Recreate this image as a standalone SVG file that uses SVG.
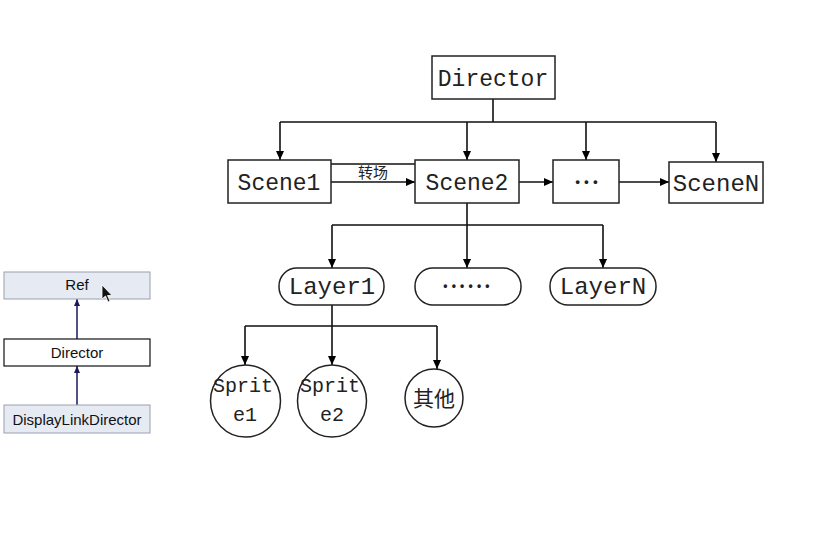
<svg xmlns="http://www.w3.org/2000/svg" width="826" height="536" viewBox="0 0 826 536">
<defs>
<marker id="ah" markerWidth="10" markerHeight="10" refX="9" refY="5" orient="auto" markerUnits="userSpaceOnUse">
<path d="M0,1 L9,5 L0,9 Z" fill="#000"/>
</marker>
<marker id="uh" markerWidth="8" markerHeight="8" refX="7" refY="4" orient="auto" markerUnits="userSpaceOnUse">
<path d="M0,1 L7,4 L0,7 Z" fill="#1a1a5a"/>
</marker>
<style>
.box{fill:#fff;stroke:#222;stroke-width:1.5}
.t{font-family:"Liberation Mono","Noto Sans CJK SC",monospace;fill:#222;text-anchor:middle}
.cj{font-family:"Noto Sans CJK SC",sans-serif;fill:#222;text-anchor:middle}
.c{stroke:#111;stroke-width:1.6;fill:none}
.ca{stroke:#111;stroke-width:1.6;fill:none;marker-end:url(#ah)}
.u{stroke:#1a1a5a;stroke-width:1.5;fill:none;marker-end:url(#uh)}
.ub{stroke:#9aa0ae;stroke-width:1;fill:#e6eaf3}
.us{font-family:"Liberation Sans",Arial,sans-serif;font-size:15px;fill:#111;text-anchor:middle}
</style>
</defs>
<rect width="826" height="536" fill="#fff"/>
<g id="connectors">
<path class="c" d="M493,99 V122 M280,122 H716"/>
<path class="ca" d="M280,122 V160"/>
<path class="ca" d="M467,122 V160"/>
<path class="ca" d="M586,122 V160"/>
<path class="ca" d="M716,122 V162"/>
<path class="c" d="M331,164 H415"/>
<path class="ca" d="M331,182 H415"/>
<path class="ca" d="M519,182 H553"/>
<path class="ca" d="M619,182 H669"/>
<path class="c" d="M467,203 V225 M332,225 H603"/>
<path class="ca" d="M332,225 V268"/>
<path class="ca" d="M467,225 V268"/>
<path class="ca" d="M603,225 V268"/>
<path class="c" d="M332,305 V326 M245,326 H437"/>
<path class="ca" d="M245,326 V365"/>
<path class="ca" d="M332,326 V365"/>
<path class="ca" d="M437,326 V369"/>
<path class="u" d="M77,339 V299"/>
<path class="u" d="M77,405 V366"/>
</g>
<text class="cj" x="373" y="178" font-size="15">转场</text>
<g id="director"><rect class="box" x="432" y="56" width="123" height="43"/><text class="t" x="493" y="86" font-size="23">Director</text></g>
<g id="scene1"><rect class="box" x="228" y="160" width="103" height="43"/><text class="t" x="279" y="190" font-size="23">Scene1</text></g>
<g id="scene2"><rect class="box" x="415" y="160" width="104" height="43"/><text class="t" x="467" y="190" font-size="23">Scene2</text></g>
<g id="sceneDots"><rect class="box" x="553" y="160" width="66" height="43"/><text class="t" x="587" y="186" font-size="13" font-weight="bold" letter-spacing="1">•••</text></g>
<g id="sceneN"><rect class="box" x="669" y="162" width="94" height="41"/><text class="t" x="716" y="191" font-size="24">SceneN</text></g>
<g id="layer1"><rect class="box" x="279" y="268" width="105" height="37" rx="18"/><text class="t" x="332" y="294" font-size="24">Layer1</text></g>
<g id="layerDots"><rect class="box" x="415" y="268" width="106" height="37" rx="18"/><text class="t" x="467" y="290" font-size="12" font-weight="bold" letter-spacing="1.2">••••••</text></g>
<g id="layerN"><rect class="box" x="550" y="268" width="106" height="37" rx="18"/><text class="t" x="603" y="294" font-size="24">LayerN</text></g>
<g id="sprite1"><ellipse class="box" cx="245.5" cy="401" rx="35" ry="36"/><text class="t" x="243" y="392" font-size="20">Sprit</text><text class="t" x="245" y="421" font-size="20">e1</text></g>
<g id="sprite2"><ellipse class="box" cx="332" cy="401" rx="34.5" ry="36"/><text class="t" x="330" y="392" font-size="20">Sprit</text><text class="t" x="332" y="421" font-size="20">e2</text></g>
<g id="other"><circle class="box" cx="434" cy="398" r="29"/><text class="cj" x="434" y="406" font-size="21">其他</text></g>
<g id="ref"><rect class="ub" x="4" y="272" width="146" height="27"/><text class="us" x="77" y="290">Ref</text></g>
<g id="directorUml"><rect x="4" y="339" width="146" height="27" fill="#fff" stroke="#111" stroke-width="1.2"/><text class="us" x="77" y="358">Director</text></g>
<g id="displayLink"><rect class="ub" x="4" y="405" width="146" height="28"/><text class="us" x="77" y="425">DisplayLinkDirector</text></g>
<path d="M102,285 L102,299 L105.5,296 L108,302 L110,301 L107.5,295.5 L112,295.5 Z" fill="#111" stroke="#fff" stroke-width="0.8"/>
</svg>
